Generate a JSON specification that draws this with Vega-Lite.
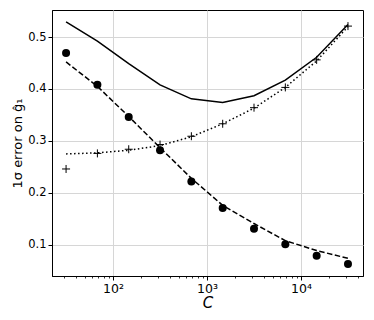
{
  "$schema": "https://vega.github.io/schema/vega-lite/v6.json",
  "width": 311,
  "height": 266,
  "autosize": {"type": "none"},
  "padding": {"left": 52, "top": 10, "right": 11, "bottom": 44},
  "background": "white",
  "config": {
    "view": {"stroke": "black", "strokeWidth": 1},
    "font": "DejaVu Sans",
    "axis": {
      "labelFont": "DejaVu Sans",
      "titleFont": "DejaVu Sans",
      "labelColor": "black",
      "titleColor": "black",
      "labelFontSize": 11.5,
      "titleFontSize": 13,
      "titleFontWeight": "normal",
      "domainColor": "black",
      "tickColor": "black",
      "gridColor": "#d6d6d6",
      "gridWidth": 1
    }
  },
  "data": {
    "values": [
      {"C": 31.62, "total": 0.529, "fitA": 0.452, "fitB": 0.275, "ptsA": 0.469, "ptsB": 0.246},
      {"C": 68.13, "total": 0.492, "fitA": 0.405, "fitB": 0.277, "ptsA": 0.408, "ptsB": 0.276},
      {"C": 146.8, "total": 0.449, "fitA": 0.347, "fitB": 0.282, "ptsA": 0.346, "ptsB": 0.284},
      {"C": 316.2, "total": 0.408, "fitA": 0.287, "fitB": 0.291, "ptsA": 0.282, "ptsB": 0.293},
      {"C": 681.3, "total": 0.381, "fitA": 0.228, "fitB": 0.308, "ptsA": 0.222, "ptsB": 0.309},
      {"C": 1468, "total": 0.374, "fitA": 0.176, "fitB": 0.333, "ptsA": 0.171, "ptsB": 0.333},
      {"C": 3162, "total": 0.387, "fitA": 0.141, "fitB": 0.363, "ptsA": 0.131, "ptsB": 0.364},
      {"C": 6813, "total": 0.417, "fitA": 0.108, "fitB": 0.403, "ptsA": 0.101, "ptsB": 0.403},
      {"C": 14678, "total": 0.461, "fitA": 0.089, "fitB": 0.454, "ptsA": 0.079, "ptsB": 0.456},
      {"C": 31623, "total": 0.524, "fitA": 0.074, "fitB": 0.520, "ptsA": 0.063, "ptsB": 0.521}
    ]
  },
  "resolve": {"axis": {"x": "independent"}},
  "layer": [
    {
      "mark": {"type": "line", "color": "black", "strokeWidth": 1.5},
      "encoding": {
        "x": {
          "field": "C", "type": "quantitative",
          "scale": {"type": "log", "domain": [22.4, 45700], "nice": false},
          "axis": {
            "orient": "bottom",
            "values": [100, 1000, 10000],
            "labelExpr": "datum.value == 100 ? '10²' : datum.value == 1000 ? '10³' : '10⁴'",
            "labelFontSize": 12.5,
            "title": "C",
            "titleFontStyle": "italic",
            "titleFontSize": 15,
            "titlePadding": 1,
            "tickSize": 4,
            "labelPadding": 2,
            "grid": true,
            "labelFlush": false,
            "labelOverlap": false
          }
        },
        "y": {
          "field": "total", "type": "quantitative",
          "scale": {"domain": [0.04, 0.552], "nice": false, "zero": false},
          "axis": {
            "values": [0.1, 0.2, 0.3, 0.4, 0.5],
            "format": ".1f",
            "title": "1σ error on ĝ₁",
            "tickSize": 4,
            "labelPadding": 2,
            "titlePadding": 3,
            "grid": true
          }
        }
      }
    },
    {
      "mark": {"type": "line", "color": "black", "strokeWidth": 1.5, "strokeDash": [5.5, 2.5]},
      "encoding": {
        "x": {
          "field": "C", "type": "quantitative",
          "axis": {
            "orient": "bottom",
            "values": [30, 40, 50, 60, 70, 80, 90, 200, 300, 400, 500, 600, 700, 800, 900, 2000, 3000, 4000, 5000, 6000, 7000, 8000, 9000, 20000, 30000, 40000],
            "labels": false, "grid": false, "domain": false, "title": null, "tickSize": 2, "tickWidth": 0.8
          }
        },
        "y": {"field": "fitA", "type": "quantitative"}
      }
    },
    {
      "mark": {"type": "line", "color": "black", "strokeWidth": 1.5, "strokeDash": [1.5, 2.5]},
      "encoding": {
        "x": {"field": "C", "type": "quantitative", "axis": null},
        "y": {"field": "fitB", "type": "quantitative"}
      }
    },
    {
      "mark": {"type": "point", "shape": "circle", "filled": true, "color": "black", "opacity": 1, "size": 64},
      "encoding": {
        "x": {"field": "C", "type": "quantitative", "axis": null},
        "y": {"field": "ptsA", "type": "quantitative"}
      }
    },
    {
      "mark": {"type": "point", "shape": "M-1,0L1,0M0,-1L0,1", "filled": false, "color": "black", "opacity": 1, "strokeWidth": 1, "size": 64},
      "encoding": {
        "x": {"field": "C", "type": "quantitative", "axis": null},
        "y": {"field": "ptsB", "type": "quantitative"}
      }
    }
  ]
}
